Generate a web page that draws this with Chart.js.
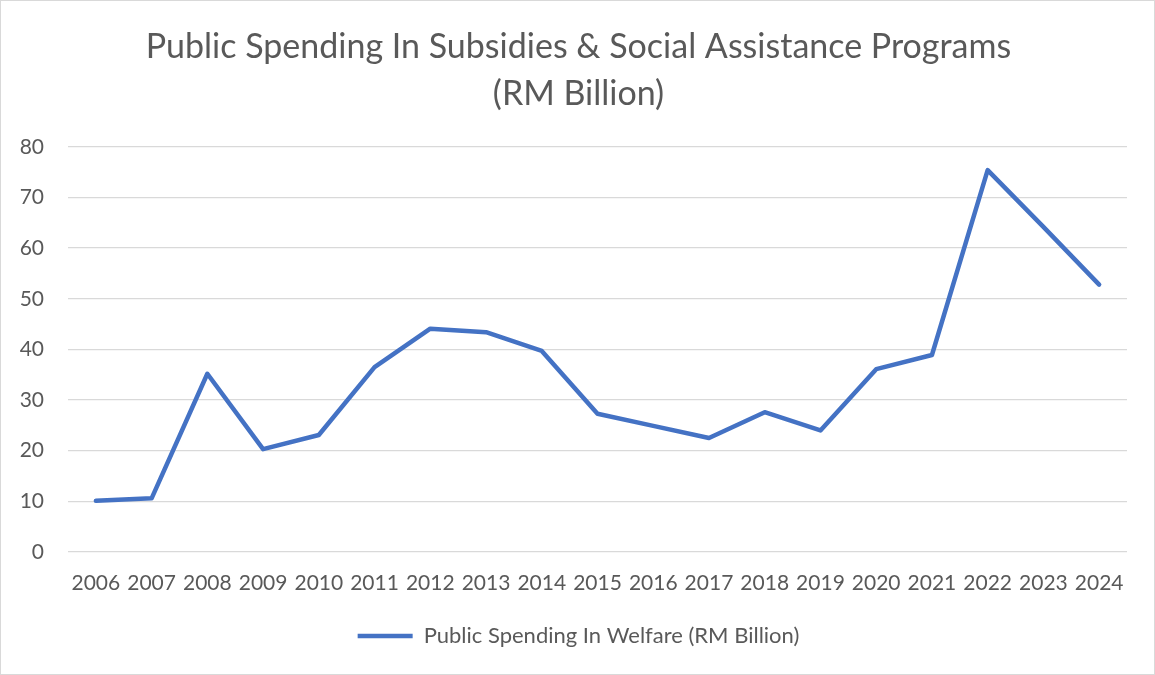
<!DOCTYPE html>
<html>
<head>
<meta charset="utf-8">
<script src="https://cdn.jsdelivr.net/npm/chart.js@4.4.1/dist/chart.umd.min.js"></script>
<style>
    html, body { margin: 0; padding: 0; background: #fff; }
    #wrap {
        position: absolute; left: 0; top: 0;
        width: 1155px; height: 675px;
        box-sizing: border-box;
        border: 1px solid #d9d9d9;
    }
    canvas { position: absolute; left: 0; top: 0; }
</style>
</head>
<body>
<div id="wrap"><canvas id="chart" width="1155" height="675"></canvas></div>
<script>
// Data
const years = ['2006', '2007', '2008', '2009', '2010', '2011', '2012', '2013', '2014', '2015',
               '2016', '2017', '2018', '2019', '2020', '2021', '2022', '2023', '2024'];
const welfareSpending = [10.1, 10.6, 35.2, 20.3, 23.1, 36.5, 44.1, 43.4, 39.7, 27.3,
                         24.9, 22.5, 27.6, 24.0, 36.1, 38.9, 75.4, 64.2, 52.8];
const yTicks = [0, 10, 20, 30, 40, 50, 60, 70, 80];

const titleLines = ['Public Spending In Subsidies & Social Assistance Programs', '(RM Billion)'];
const seriesName = 'Public Spending In Welfare (RM Billion)';

const textColor = '#595959';
const gridColor = '#d9d9d9';
const lineColor = '#4472c4';
const fontFamily = 'Lato, "Open Sans", sans-serif';

const ctx = document.getElementById('chart').getContext('2d');
new Chart(ctx, {
    type: 'line',
    data: {
        labels: years,
        datasets: [{
            label: seriesName,
            data: welfareSpending,
            yAxisID: 'y',
            borderColor: lineColor,
            backgroundColor: lineColor,
            borderWidth: 4.5,
            borderJoinStyle: 'round',
            borderCapStyle: 'round',
            pointRadius: 0,
            tension: 0
        }]
    },
    options: {
        responsive: false,
        animation: false,
        devicePixelRatio: 1,
        layout: {
            padding: { top: 0, right: 0, bottom: 19, left: 0 }
        },
        plugins: {
            title: {
                display: true,
                text: titleLines,
                color: textColor,
                font: { family: fontFamily, size: 34, weight: 'normal', lineHeight: 1.38 },
                padding: { top: 23, bottom: 29 }
            },
            legend: {
                display: true,
                position: 'bottom',
                labels: {
                    color: textColor,
                    font: { family: fontFamily, size: 22 },
                    usePointStyle: true,
                    pointStyle: 'line',
                    pointStyleWidth: 55,
                    boxHeight: 4
                }
            },
            tooltip: { enabled: false }
        },
        scales: {
            x: {
                offset: true,
                grid: { display: false },
                border: { display: false },
                ticks: {
                    color: textColor,
                    font: { family: fontFamily, size: 21 },
                    padding: 11,
                    maxRotation: 0,
                    autoSkip: false
                },
                afterFit: function(scale) { scale.height = 63; }
            },
            y: {
                min: 0,
                max: 80,
                afterBuildTicks: function(scale) {
                    scale.ticks = yTicks.map(v => ({ value: v }));
                },
                grid: {
                    color: gridColor,
                    lineWidth: 1.3,
                    drawTicks: false
                },
                border: { display: false },
                ticks: {
                    color: textColor,
                    font: { family: fontFamily, size: 21 },
                    padding: 24
                },
                afterFit: function(scale) { scale.width = 67; }
            },
            // empty right-hand spacer so the plot ends where the reference does,
            // while title and legend stay centred on the full canvas
            yRight: {
                position: 'right',
                display: true,
                grid: { display: false },
                border: { display: false },
                ticks: { display: false },
                afterFit: function(scale) { scale.width = 29; }
            }
        }
    }
});
</script>
</body>
</html>
